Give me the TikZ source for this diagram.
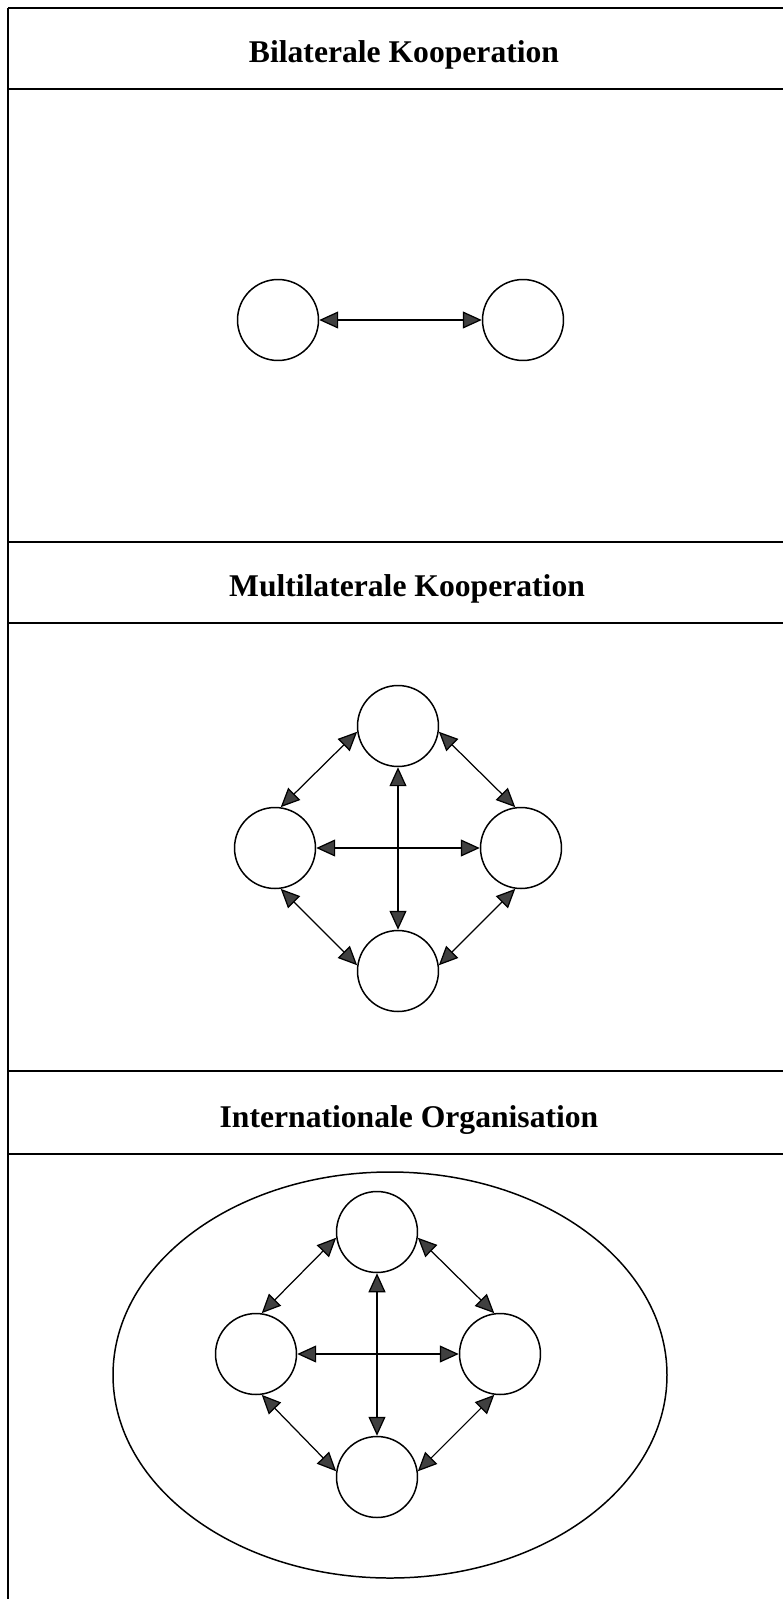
\documentclass[tikz,border=0pt]{standalone}
\usepackage{fontspec}
\setmainfont{Liberation Serif}
\usetikzlibrary{arrows.meta}
\newcommand{\px}{0.02cm}

\begin{document}
\begin{tikzpicture}[x=\px, y=-\px,
    land/.style={draw, circle, minimum size=1.62cm, inner sep=0pt, line width=0.85pt},
    titel/.style={font=\bfseries\fontsize{18}{21}\selectfont, anchor=base},
    link/.style={{Triangle[length=0.38cm, width=0.34cm, fill=black!75]}-{Triangle[length=0.38cm, width=0.34cm, fill=black!75]}, line width=0.7pt},
    rahmen/.style={line width=0.8pt}]
    \useasboundingbox (0,0) rectangle (783,1599);

    % Frame
    \draw[rahmen] (8,8) -- (783,8);
    \draw[rahmen] (8,8) -- (8,1599);
    \draw[rahmen] (8,89) -- (783,89);
    \draw[rahmen] (8,542) -- (783,542);
    \draw[rahmen] (8,623) -- (783,623);
    \draw[rahmen] (8,1071) -- (783,1071);
    \draw[rahmen] (8,1154) -- (783,1154);

    % Titles
    \node[titel] (titel-1) at (404,62) {Bilaterale Kooperation};
    \node[titel] (titel-2) at (407,596) {Multilaterale Kooperation};
    \node[titel] (titel-3) at (409,1127) {Internationale Organisation};

    % Bilateral
    \node[land] (bi-1) at (278,320) {};
    \node[land] (bi-2) at (523,320) {};
    \draw[link] (bi-1) -- (bi-2);

    % Multilateral
    \node[land] (multi-n) at (398,726) {};
    \node[land] (multi-w) at (275,848) {};
    \node[land] (multi-e) at (521,848) {};
    \node[land] (multi-s) at (398,971) {};
    \draw[link] (multi-n.188) -- (multi-w.82);
    \draw[link] (multi-n.-8) -- (multi-e.98);
    \draw[link] (multi-w.-82) -- (multi-s.172);
    \draw[link] (multi-e.-98) -- (multi-s.8);
    \draw[link] (multi-w.east) -- (multi-e.west);
    \draw[link] (multi-n.south) -- (multi-s.north);

    % International organisation
    \draw[line width=0.85pt] (390,1375) ellipse (277 and 203);
    \node[land] (org-n) at (377,1232) {};
    \node[land] (org-w) at (256,1354) {};
    \node[land] (org-e) at (500,1354) {};
    \node[land] (org-s) at (377,1477) {};
    \draw[link] (org-n.188) -- (org-w.82);
    \draw[link] (org-n.-8) -- (org-e.98);
    \draw[link] (org-w.-82) -- (org-s.172);
    \draw[link] (org-e.-98) -- (org-s.8);
    \draw[link] (org-w.east) -- (org-e.west);
    \draw[link] (org-n.south) -- (org-s.north);

\end{tikzpicture}
\end{document}
